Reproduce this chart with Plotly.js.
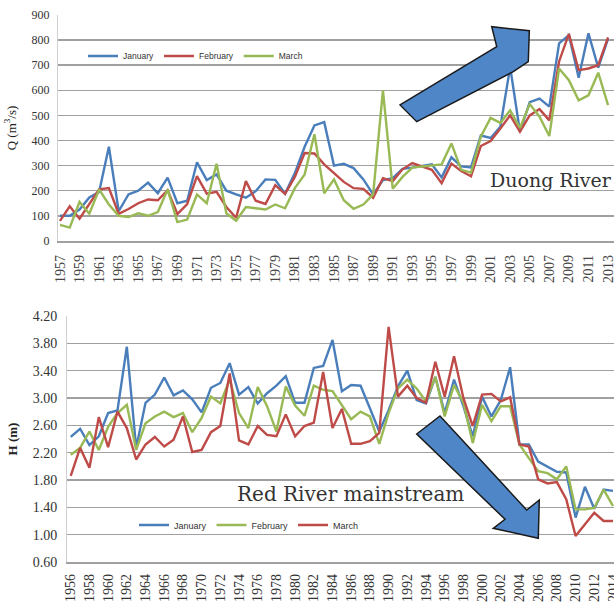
<!DOCTYPE html>
<html>
<head>
<meta charset="utf-8">
<script src="https://cdn.plot.ly/plotly-3.0.1.min.js"></script>
<style>html,body{margin:0;padding:0;background:#fff;}#chart{width:614px;height:603px;}</style>
</head>
<body>
<div id="chart"></div>
<script>
// ---- Duong River discharge Q (m3/s), 1957-2013 ----
const yearsQ = [1957,1958,1959,1960,1961,1962,1963,1964,1965,1966,1967,1968,1969,1970,1971,1972,1973,1974,1975,1976,1977,1978,1979,1980,1981,1982,1983,1984,1985,1986,1987,1988,1989,1990,1991,1992,1993,1994,1995,1996,1997,1998,1999,2000,2001,2002,2003,2004,2005,2006,2007,2008,2009,2010,2011,2012,2013];
const qJanuary = [100,100,125,173,195,375,118,185,200,232,190,252,150,160,313,242,265,200,185,172,198,245,243,188,270,375,460,473,300,307,290,245,185,242,250,287,292,298,305,253,333,297,293,420,410,455,693,435,553,567,535,787,820,650,827,690,805];
const qFebruary = [80,138,88,145,205,210,108,127,150,165,162,202,107,147,258,188,195,135,92,238,160,147,222,187,255,350,348,305,268,235,210,207,172,250,238,285,310,295,283,230,308,278,257,378,398,448,500,435,500,525,480,715,825,680,687,700,811];
const qMarch = [64,53,155,108,205,145,100,95,110,100,115,205,75,85,185,150,307,110,80,135,130,125,145,130,210,265,425,190,245,162,128,145,185,600,208,255,292,297,300,305,388,283,272,415,490,470,520,450,545,495,418,687,640,560,580,670,541];

// ---- Red River mainstream water level H (m), 1956-2014 ----
const yearsH = [1956,1957,1958,1959,1960,1961,1962,1963,1964,1965,1966,1967,1968,1969,1970,1971,1972,1973,1974,1975,1976,1977,1978,1979,1980,1981,1982,1983,1984,1985,1986,1987,1988,1989,1990,1991,1992,1993,1994,1995,1996,1997,1998,1999,2000,2001,2002,2003,2004,2005,2006,2007,2008,2009,2010,2011,2012,2013,2014];
const hJanuary = [2.43,2.55,2.31,2.44,2.78,2.82,3.75,2.27,2.93,3.05,3.30,3.04,3.11,2.98,2.79,3.15,3.22,3.51,3.05,3.16,2.92,3.07,3.18,3.32,2.93,2.93,3.44,3.47,3.85,3.10,3.19,3.18,2.85,2.51,2.82,3.17,3.40,2.97,2.92,3.31,2.78,3.27,2.88,2.44,3.02,2.73,2.97,3.45,2.32,2.32,2.07,2.00,1.92,1.91,1.25,1.70,1.38,1.66,1.64];
const hFebruary = [2.17,2.27,2.51,2.24,2.58,2.78,2.90,2.24,2.63,2.73,2.80,2.72,2.78,2.50,2.71,3.02,2.92,3.27,2.78,2.56,3.16,2.88,2.51,3.17,2.89,2.74,3.18,3.12,3.10,2.90,2.69,2.80,2.73,2.33,2.78,3.14,3.27,3.14,2.95,3.31,2.73,3.19,2.93,2.34,2.90,2.66,2.88,2.88,2.32,2.12,1.93,1.90,1.81,2.00,1.37,1.37,1.39,1.66,1.42];
const hMarch = [1.86,2.27,1.98,2.72,2.28,2.80,2.56,2.10,2.32,2.43,2.29,2.39,2.73,2.21,2.24,2.50,2.59,3.36,2.38,2.32,2.59,2.46,2.44,2.76,2.44,2.59,2.64,3.38,2.56,2.84,2.33,2.33,2.37,2.49,4.04,3.02,3.18,3.00,2.93,3.53,3.02,3.61,3.00,2.59,3.05,3.06,2.95,3.01,2.32,2.29,1.81,1.75,1.77,1.52,0.98,1.15,1.32,1.20,1.20];

const ticksQ = yearsQ.filter((y, i) => i % 2 === 0);
const ticksH = yearsH.filter((y, i) => i % 2 === 0);
const ticksYQ = [0,100,200,300,400,500,600,700,800,900];
const ticksYH = [0.6,1.0,1.4,1.8,2.2,2.6,3.0,3.4,3.8,4.2];

const BLUE = '#4A7EBB', RED = '#BE4B48', GREEN = '#98B954';
const W = 614, H = 603;
const px = (x) => x / W;
const py = (y) => 1 - y / H;
const LW = 2.4;

const traces = [
  {x: yearsQ, y: qJanuary, name: 'January', type: 'scatter', mode: 'lines', line: {color: BLUE, width: LW}, xaxis: 'x', yaxis: 'y', legend: 'legend'},
  {x: yearsQ, y: qFebruary, name: 'February', type: 'scatter', mode: 'lines', line: {color: RED, width: LW}, xaxis: 'x', yaxis: 'y', legend: 'legend'},
  {x: yearsQ, y: qMarch, name: 'March', type: 'scatter', mode: 'lines', line: {color: GREEN, width: LW}, xaxis: 'x', yaxis: 'y', legend: 'legend'},
  {x: yearsH, y: hJanuary, name: 'January', type: 'scatter', mode: 'lines', line: {color: BLUE, width: LW}, xaxis: 'x2', yaxis: 'y2', legend: 'legend2'},
  {x: yearsH, y: hFebruary, name: 'February', type: 'scatter', mode: 'lines', line: {color: GREEN, width: LW}, xaxis: 'x2', yaxis: 'y2', legend: 'legend2'},
  {x: yearsH, y: hMarch, name: 'March', type: 'scatter', mode: 'lines', line: {color: RED, width: LW}, xaxis: 'x2', yaxis: 'y2', legend: 'legend2'}
];

const serif = 'Liberation Serif, Times New Roman, serif';
const gridC = '#a0a0a0';
const noTick = 'rgba(0,0,0,0)';

function arrowPath(pts) {
  return 'M' + pts.map(p => px(p[0]).toFixed(4) + ',' + py(p[1]).toFixed(4)).join(' L') + ' Z';
}
const arrowUp = [[400,105],[496.7,46.7],[491.7,26.7],[529.3,30.7],[528.3,61.7],[513.3,71.7],[416.7,121.7]];
const arrowDown = [[416.7,434],[440,416],[526.7,510],[539.3,500],[538.3,538.3],[493.3,528.3],[505,519.3]];

const layout = {
  width: W, height: H,
  margin: {l: 0, r: 0, t: 0, b: 0},
  paper_bgcolor: '#fff', plot_bgcolor: '#fff',
  showlegend: true,
  xaxis: {
    domain: [px(58), 1], range: [1956.8, 2013.61], anchor: 'y',
    tickvals: ticksQ, ticktext: ticksQ.map(String), tickangle: -90,
    tickfont: {family: serif, size: 14, color: '#444'}, ticks: 'outside', ticklen: 7, tickcolor: noTick,
    ticklabeloverflow: 'allow',
    showgrid: false, zeroline: false, showline: true, linecolor: gridC, linewidth: 1.5, automargin: false
  },
  yaxis: {
    domain: [py(241), py(15)], range: [-0.5, 900], anchor: 'x',
    tickvals: ticksYQ, ticktext: ticksYQ.map(String), tickfont: {family: serif, size: 12, color: '#333'},
    ticks: 'outside', ticklen: 5, tickcolor: noTick,
    ticklabeloverflow: 'allow',
    showgrid: true, gridcolor: gridC, gridwidth: 1.5, zeroline: false,
    showline: true, linecolor: '#cfcfcf', linewidth: 1, automargin: false,
    title: {text: 'Q (m<sup>3</sup>/s)', font: {family: serif, size: 13, color: '#222'}, standoff: 12}
  },
  xaxis2: {
    domain: [px(67), 1], range: [1955.6, 2014.11], anchor: 'y2',
    tickvals: ticksH, ticktext: ticksH.map(String), tickangle: -90,
    tickfont: {family: serif, size: 14, color: '#333'}, ticks: 'outside', ticklen: 5, tickcolor: noTick,
    ticklabeloverflow: 'allow',
    showgrid: false, zeroline: false, showline: true, linecolor: gridC, linewidth: 1.5, automargin: false
  },
  yaxis2: {
    domain: [py(562), py(316)], range: [0.6, 4.2], anchor: 'x2',
    tickvals: ticksYH, ticktext: ticksYH.map(v => v.toFixed(2)), tickfont: {family: serif, size: 14, color: '#333'},
    ticks: 'outside', ticklen: 6, tickcolor: noTick,
    ticklabeloverflow: 'allow',
    showgrid: true, gridcolor: gridC, gridwidth: 1.5, zeroline: false,
    showline: true, linecolor: '#cfcfcf', linewidth: 1, automargin: false,
    title: {text: '<b>H (m)</b>', font: {family: serif, size: 13, color: '#222'}, standoff: 12}
  },
  legend: {
    x: px(83), y: py(56), xanchor: 'left', yanchor: 'middle', orientation: 'h',
    bgcolor: 'rgba(255,255,255,0)', font: {family: 'Liberation Sans, Arial, sans-serif', size: 8.5, color: '#333'},
    itemwidth: 30, tracegroupgap: 0
  },
  legend2: {
    x: px(134), y: py(525), xanchor: 'left', yanchor: 'middle', orientation: 'h',
    bgcolor: 'rgba(255,255,255,0)', font: {family: 'Liberation Sans, Arial, sans-serif', size: 9, color: '#333'},
    itemwidth: 30, tracegroupgap: 0
  },
  annotations: [
    {text: 'Duong River', xref: 'paper', yref: 'paper', x: 1, y: py(180), xanchor: 'right', yanchor: 'middle',
     showarrow: false, font: {family: 'DejaVu Serif, serif', size: 19, color: '#333'}},
    {text: 'Red River mainstream', xref: 'paper', yref: 'paper', x: px(235), y: py(494), xanchor: 'left', yanchor: 'middle',
     showarrow: false, font: {family: 'DejaVu Serif, serif', size: 20, color: '#333'}}
  ],
  shapes: [
    {type: 'path', xref: 'paper', yref: 'paper', path: arrowPath(arrowUp), fillcolor: '#4F86C8', line: {color: '#1a1a1a', width: 1.5}, layer: 'above'},
    {type: 'path', xref: 'paper', yref: 'paper', path: arrowPath(arrowDown), fillcolor: '#4F86C8', line: {color: '#1a1a1a', width: 1.5}, layer: 'above'}
  ]
};

Plotly.newPlot('chart', traces, layout, {staticPlot: true, displayModeBar: false});
</script>
</body>
</html>
